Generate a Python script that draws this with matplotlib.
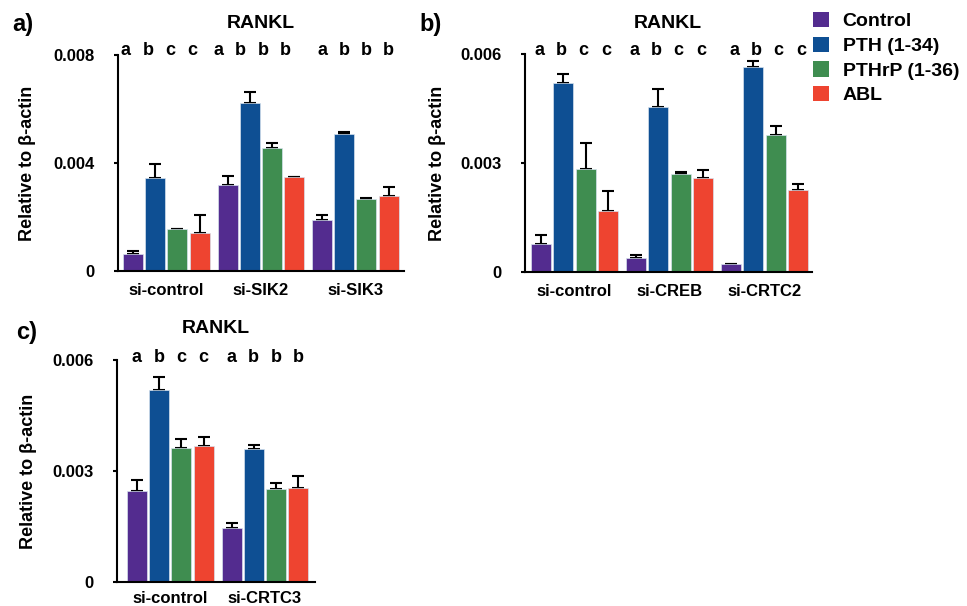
import matplotlib
matplotlib.use("Agg")
import matplotlib.pyplot as plt
import numpy as np
from matplotlib.patches import Patch

plt.rcParams['font.family'] = ['Liberation Sans', 'DejaVu Sans']
plt.rcParams['font.weight'] = 'bold'

# ---------------- data ----------------
series_names = ['Control', 'PTH (1-34)', 'PTHrP (1-36)', 'ABL']
colors = ['#532C8F', '#0E4F93', '#3F8D50', '#EE4430']

# panel a
groups_a = ['si-control', 'si-SIK2', 'si-SIK3']
control_a = [0.00064, 0.00319, 0.00188]
pth_a = [0.00345, 0.00622, 0.00506]
pthrp_a = [0.00155, 0.00456, 0.00266]
abl_a = [0.00142, 0.00349, 0.00277]
control_a_err = [0.00010, 0.00033, 0.00018]
pth_a_err = [0.00053, 0.00041, 0.00008]
pthrp_a_err = [0.00002, 0.00019, 0.00004]
abl_a_err = [0.00066, 0.00001, 0.00034]
letters_a = [['a', 'b', 'c', 'c'], ['a', 'b', 'b', 'b'], ['a', 'b', 'b', 'b']]
yticks_a = [0, 0.004, 0.008]
yticklabels_a = ['0', '0.004', '0.008']

# panel b
groups_b = ['si-control', 'si-CREB', 'si-CRTC2']
control_b = [0.00078, 0.00039, 0.00021]
pth_b = [0.00520, 0.00454, 0.00563]
pthrp_b = [0.00283, 0.00270, 0.00376]
abl_b = [0.00167, 0.00259, 0.00226]
control_b_err = [0.00025, 0.00007, 0.00002]
pth_b_err = [0.00026, 0.00050, 0.00017]
pthrp_b_err = [0.00071, 0.00005, 0.00025]
abl_b_err = [0.00056, 0.00021, 0.00016]
letters_b = [['a', 'b', 'c', 'c'], ['a', 'b', 'c', 'c'], ['a', 'b', 'c', 'c']]
yticks_b = [0, 0.003, 0.006]
yticklabels_b = ['0', '0.003', '0.006']

# panel c
groups_c = ['si-control', 'si-CRTC3']
control_c = [0.00245, 0.00146]
pth_c = [0.00518, 0.00360]
pthrp_c = [0.00361, 0.00252]
abl_c = [0.00368, 0.00254]
control_c_err = [0.00031, 0.00013]
pth_c_err = [0.00036, 0.00010]
pthrp_c_err = [0.00026, 0.00016]
abl_c_err = [0.00024, 0.00032]
letters_c = [['a', 'b', 'c', 'c'], ['a', 'b', 'b', 'b']]
yticks_c = [0, 0.003, 0.006]
yticklabels_c = ['0', '0.003', '0.006']

title = 'RANKL'
ylabel = 'Relative to β-actin'

# ---------------- layout ----------------
W, H = 967, 606
fig = plt.figure(figsize=(W / 100, H / 100), dpi=100)

def rect(l, r, t, b):
    return [l / W, (H - b) / H, (r - l) / W, (b - t) / H]

GSTEP = 4.26
BW = 0.9

def draw_panel(ax, groups, vals, errs, letters, yticks, yticklabels, xlim,
               letter_y, letter_shift_px, xpad=8.5):
    ng = len(groups)
    for j, (v, e) in enumerate(zip(vals, errs)):
        x = np.arange(ng) * GSTEP + j
        ax.errorbar(x, v, yerr=[np.zeros(ng), e], fmt='none', ecolor='black',
                    elinewidth=1.5, capsize=4, capthick=1.5, zorder=1)
        ax.bar(x, v, width=BW, color=colors[j], edgecolor='#d6e2ee',
               linewidth=0.5, zorder=2)
    ax.set_xlim(*xlim)
    ax.set_ylim(0, yticks[-1])
    ax.set_yticks(yticks)
    ax.set_yticklabels(yticklabels)
    ax.set_xticks(np.arange(ng) * GSTEP + 1.5)
    ax.set_xticklabels(groups)
    for s in ['top', 'right']:
        ax.spines[s].set_visible(False)
    for s in ['left', 'bottom']:
        ax.spines[s].set_linewidth(1.5)
    ax.tick_params(axis='y', direction='out', length=3, width=1.5, pad=14,
                   labelsize=12)
    ax.tick_params(axis='x', length=0, pad=xpad, labelsize=12)
    for g in range(ng):
        for j in range(4):
            ax.annotate(letters[g][j], xy=(g * GSTEP + j, letter_y),
                        xytext=(letter_shift_px[g] * 0.72, 0),
                        textcoords='offset points', ha='center',
                        va='baseline', fontsize=13, fontweight='bold',
                        annotation_clip=False)

# panel a
ax_a = fig.add_axes(rect(118, 404, 55, 271))
draw_panel(ax_a, groups_a,
           [control_a, pth_a, pthrp_a, abl_a],
           [control_a_err, pth_a_err, pthrp_a_err, abl_a_err],
           letters_a, yticks_a, yticklabels_a, (-0.675, 12.21),
           0.008, [-7, -9, 0])

# panel b
ax_b = fig.add_axes(rect(525, 812, 54, 272))
draw_panel(ax_b, groups_b,
           [control_b, pth_b, pthrp_b, abl_b],
           [control_b_err, pth_b_err, pthrp_b_err, abl_b_err],
           letters_b, yticks_b, yticklabels_b, (-0.72, 12.15),
           0.00597, [-2, -2, 3])

# panel c
ax_c = fig.add_axes(rect(117, 315, 360, 582))
draw_panel(ax_c, groups_c,
           [control_c, pth_c, pthrp_c, abl_c],
           [control_c_err, pth_c_err, pthrp_c_err, abl_c_err],
           letters_c, yticks_c, yticklabels_c, (-0.9, 8.02),
           0.00594, [0, 0], xpad=6.5)

# titles, y labels, panel labels
def ftext(x, y, s, **kw):
    fig.text(x / W, 1 - y / H, s, **kw)

for cx, cy in [(261, 24), (668, 24), (216, 328.5)]:
    ftext(cx, cy, title, ha='center', va='center', fontsize=14, fontweight='bold')
for cx, cy in [(28, 163), (437, 163), (29, 471)]:
    ftext(cx, cy, ylabel, ha='center', va='center', rotation=90,
          fontsize=13, fontweight='bold')
for lx, ly, lab in [(12, 25, 'a)'), (419, 25, 'b)'), (16, 333, 'c)')]:
    ftext(lx, ly, lab, ha='left', va='center', fontsize=17, fontweight='bold')

# legend
handles = [Patch(facecolor=c, edgecolor='none') for c in colors]
fig.legend(handles, series_names, loc='upper left',
           bbox_to_anchor=(813 / W, 1 - 12 / H), frameon=False,
           handlelength=0.82, handleheight=0.82,
           handletextpad=0.7, labelspacing=0.33, borderpad=0,
           borderaxespad=0, prop={'weight': 'bold', 'size': 14})

fig.savefig('out.png', dpi=100)
